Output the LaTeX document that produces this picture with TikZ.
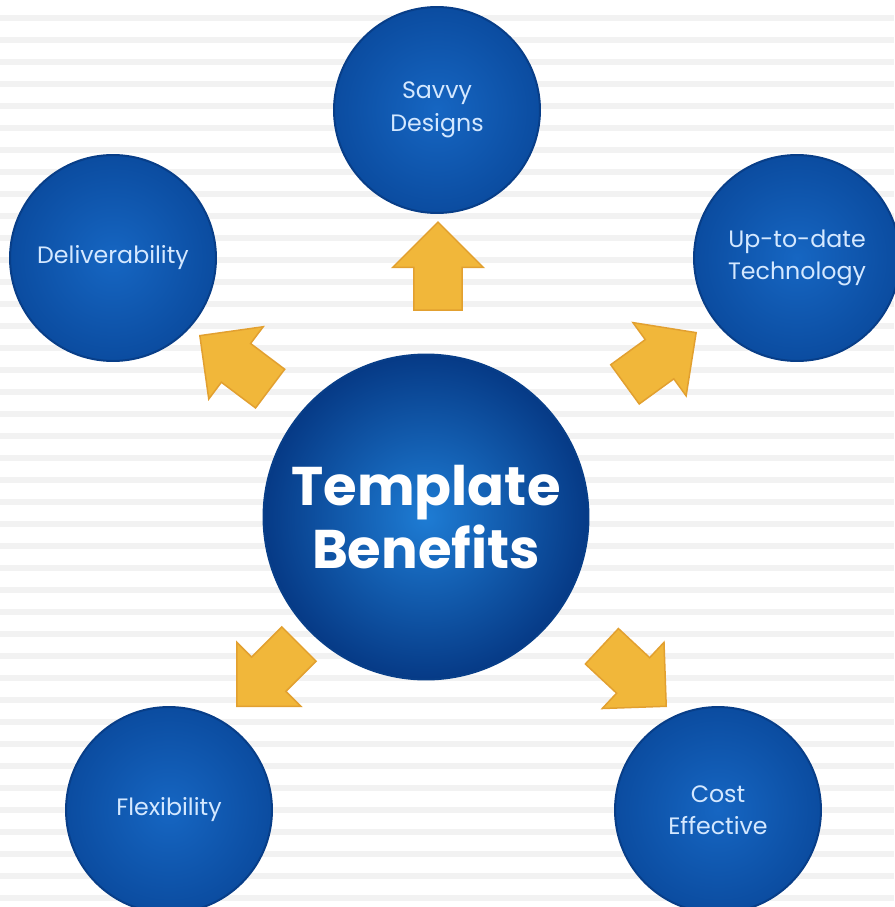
\documentclass[tikz,border=0pt]{standalone}
\usepackage{fontspec}
\setmainfont{Poppins}
\usetikzlibrary{shapes.arrows}
\tikzset{
  bubble/.style={
    circle,
    inner sep=0pt,
    draw=bubbleedge,
    line width=0.4mm,
    shade,
    inner color=bubblelight,
    outer color=bubbledark,
    text=bubbletext,
    align=center,
    font=\fontsize{13.5}{18.5}\selectfont
  },
  bubble-small/.style={bubble, minimum size=4.12cm},
  bubble-big/.style={
    bubble,
    minimum size=6.5cm,
    inner color=hublight,
    outer color=hubdark,
    text=white,
    font=\fontsize{31}{36}\bfseries\selectfont
  },
  arrow-block/.style={
    single arrow,
    anchor=tip,
    fill=arrowyellow,
    draw=arrowedge,
    line width=0.3mm,
    inner xsep=0pt,
    inner ysep=0.47cm,
    minimum height=1.76cm,
    single arrow head extend=0.42cm,
    single arrow tip angle=90
  },
  stripe/.style={fill=stripegray, draw=none}
}
\definecolor{bubblelight}{RGB}{22,102,194}
\definecolor{bubbledark}{RGB}{11,76,160}
\definecolor{bubbleedge}{RGB}{8,62,136}
\definecolor{bubbletext}{RGB}{212,232,255}
\definecolor{hublight}{RGB}{30,124,212}
\definecolor{hubdark}{RGB}{6,58,134}
\definecolor{arrowyellow}{RGB}{241,183,58}
\definecolor{arrowedge}{RGB}{226,160,48}
\definecolor{stripegray}{RGB}{242,242,242}

\begin{document}
\begin{tikzpicture}[x=0.02cm, y=-0.02cm]
  \useasboundingbox (0,0) rectangle (894,907);

  % Striped background
  \fill[white] (0,0) rectangle (894,907);
  \foreach \k in {0,...,40} {
    \fill[stripe] (0,15+22*\k) rectangle (894,21+22*\k);
  }

  % Hub
  \node[bubble-big] (hub) at (426,517) {Template\\Benefits};

  % Benefits
  \node[bubble-small] (savvy) at (437,110) {Savvy\\Designs};
  \node[bubble-small] (deliver) at (113,258) {Deliverability};
  \node[bubble-small] (uptodate) at (797,258) {Up-to-date\\Technology};
  \node[bubble-small] (flex) at (169,810) {Flexibility};
  \node[bubble-small] (cost) at (718,810) {Cost\\Effective};

  % Block arrows (placed by their tips)
  \node[arrow-block, rotate=90] (to-savvy) at (438,221) {};
  \node[arrow-block, rotate=143] (to-deliver) at (199,335) {};
  \node[arrow-block, rotate=36] (to-uptodate) at (697,332) {};
  \node[arrow-block, rotate=225] (to-flex) at (236,707) {};
  \node[arrow-block, rotate=-43] (to-cost) at (667,707) {};
\end{tikzpicture}
\end{document}
